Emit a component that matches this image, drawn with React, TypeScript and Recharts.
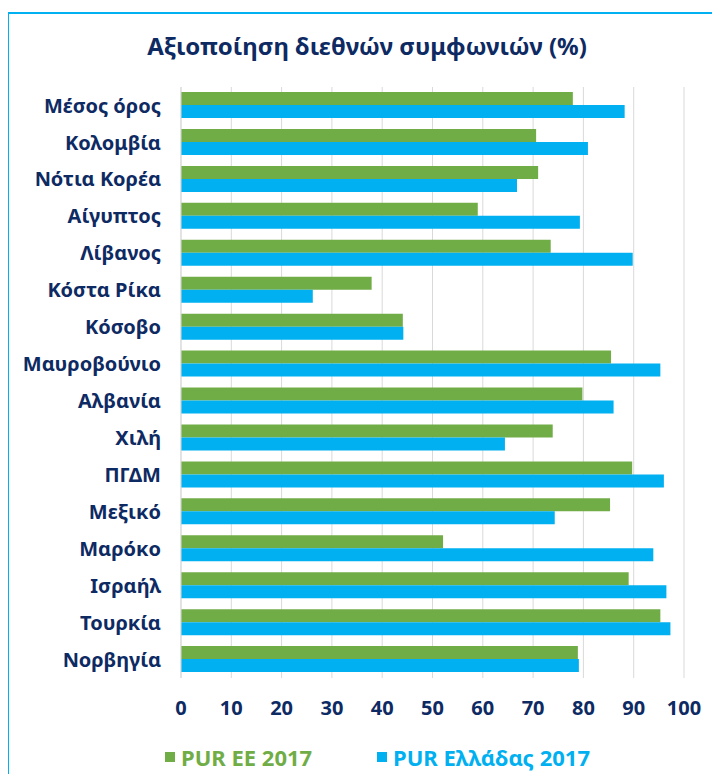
import React from "react"
import { BarChart, Bar, XAxis, YAxis, CartesianGrid } from "recharts"

const countries = [
  "Μέσος όρος",
  "Κολομβία",
  "Νότια Κορέα",
  "Αίγυπτος",
  "Λίβανος",
  "Κόστα Ρίκα",
  "Κόσοβο",
  "Μαυροβούνιο",
  "Αλβανία",
  "Χιλή",
  "ΠΓΔΜ",
  "Μεξικό",
  "Μαρόκο",
  "Ισραήλ",
  "Τουρκία",
  "Νορβηγία",
]
const purEU = [77.9, 70.6, 71.0, 59.0, 73.5, 37.9, 44.1, 85.5, 79.8, 73.9, 89.7, 85.3, 52.1, 89.0, 95.3, 78.9]
const purGreece = [88.2, 80.9, 66.8, 79.3, 89.8, 26.2, 44.2, 95.3, 86.0, 64.4, 96.0, 74.3, 93.9, 96.5, 97.3, 79.1]
const xTicks = [0, 10, 20, 30, 40, 50, 60, 70, 80, 90, 100]

const GREEN = "#70AD47"
const CYAN = "#00B0F0"
const NAVY = "#0E2A63"
const FONT = "'Noto Sans', sans-serif"

const data = countries.map((name, i) => ({
  name,
  eu: purEU[i],
  gr: purGreece[i],
}))

export default function App() {
  return (
    <div style={{ position: "relative", width: 720, height: 782, margin: -8, background: "#fff", fontFamily: FONT, overflow: "hidden" }}>
      <div
        style={{
          position: "absolute",
          left: 7,
          top: 12,
          width: 740,
          height: 800,
          borderLeft: `2px solid ${CYAN}`,
          borderTop: `2px solid ${CYAN}`,
        }}
      />
      <div
        style={{
          position: "absolute",
          top: 29,
          left: 0,
          width: 734,
          textAlign: "center",
          fontSize: 24,
          fontWeight: 700,
          color: NAVY,
        }}
      >
        Αξιοποίηση διεθνών συμφωνιών (%)
      </div>
      <div style={{ position: "absolute", left: 0, top: 0 }}>
        <BarChart
          width={720}
          height={782}
          data={data}
          layout="vertical"
          margin={{ top: 87, right: 36, left: 0, bottom: 64 }}
          barGap={0}
          barSize={13}
        >
          <CartesianGrid horizontal={false} stroke="#D9D9D9" />
          <XAxis
            type="number"
            domain={[0, 100]}
            ticks={xTicks}
            interval={0}
            height={40}
            axisLine={false}
            tickLine={false}
            tickSize={0}
            tickMargin={23}
            tick={{ fill: NAVY, fontSize: 20, fontWeight: 700, fontFamily: FONT }}
          />
          <YAxis
            type="category"
            dataKey="name"
            width={181}
            interval={0}
            axisLine={{ stroke: "#D9D9D9" }}
            tickLine={false}
            tickSize={0}
            tickMargin={20}
            tick={{ fill: NAVY, fontSize: 20, fontWeight: 700, fontFamily: FONT }}
          />
          <Bar dataKey="eu" fill={GREEN} isAnimationActive={false} />
          <Bar dataKey="gr" fill={CYAN} isAnimationActive={false} />
        </BarChart>
      </div>
      <div style={{ position: "absolute", top: 742, left: 0, width: 720, fontSize: 22, fontWeight: 700 }}>
        <div style={{ position: "absolute", left: 165, display: "flex", alignItems: "center", color: GREEN, whiteSpace: "nowrap" }}>
          <span style={{ display: "inline-block", width: 10, height: 10, background: GREEN, marginRight: 6 }} />
          PUR ΕΕ 2017
        </div>
        <div style={{ position: "absolute", left: 377, display: "flex", alignItems: "center", color: CYAN, whiteSpace: "nowrap" }}>
          <span style={{ display: "inline-block", width: 10, height: 10, background: CYAN, marginRight: 6 }} />
          PUR Ελλάδας 2017
        </div>
      </div>
    </div>
  )
}
